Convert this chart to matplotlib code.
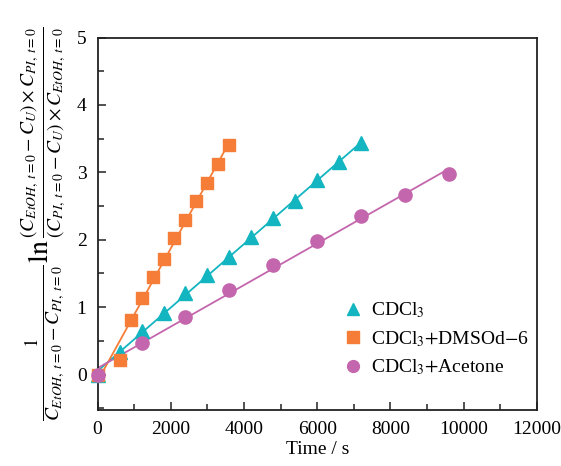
import numpy as np
import matplotlib
matplotlib.use("Agg")
import matplotlib.pyplot as plt
from matplotlib.ticker import MultipleLocator

plt.rcParams['font.family'] = ['Liberation Serif', 'DejaVu Serif']
plt.rcParams['mathtext.fontset'] = 'stix'

# Data
t_cdcl3 = [0, 600, 1200, 1800, 2400, 3000, 3600, 4200, 4800, 5400, 6000, 6600, 7200]
y_cdcl3 = [0.0, 0.33, 0.64, 0.91, 1.21, 1.48, 1.75, 2.04, 2.32, 2.58, 2.89, 3.15, 3.43]

t_dmso = [0, 600, 900, 1200, 1500, 1800, 2100, 2400, 2700, 3000, 3300, 3600]
y_dmso = [0.0, 0.21, 0.81, 1.14, 1.44, 1.72, 2.03, 2.30, 2.57, 2.84, 3.12, 3.41]

t_acet = [0, 1200, 2400, 3600, 4800, 6000, 7200, 8400, 9600]
y_acet = [0.0, 0.47, 0.86, 1.25, 1.62, 1.98, 2.35, 2.67, 2.97]

labels = ["CDCl$_3$", r"CDCl$_3$$+$DMSOd$-$6", r"CDCl$_3$$+$Acetone"]
colors = ["#12b5c0", "#f57d38", "#c466ad"]
markers = ["^", "s", "o"]
msizes = [10, 8.5, 9.5]

fig = plt.figure(figsize=(5.61, 4.66), dpi=100)
ax = fig.add_axes([0.174, 0.121, 0.783, 0.7985])

series = [(t_cdcl3, y_cdcl3), (t_dmso, y_dmso), (t_acet, y_acet)]
for (t, y), lab, c, m, ms in zip(series, labels, colors, markers, msizes):
    t = np.asarray(t, float); y = np.asarray(y, float)
    k, b = np.polyfit(t, y, 1)
    xx = np.array([t.min(), t.max()])
    ax.plot(xx, k * xx + b, color=c, lw=1.3, zorder=2)
    ax.plot(t, y, linestyle='none', marker=m, ms=ms, color=c, mec=c,
            label=lab, zorder=3, clip_on=False)

ax.set_xlim(0, 12000)
ax.set_ylim(-0.52, 5)
ax.xaxis.set_major_locator(MultipleLocator(2000))
ax.xaxis.set_minor_locator(MultipleLocator(1000))
ax.yaxis.set_major_locator(MultipleLocator(1))
ax.yaxis.set_minor_locator(MultipleLocator(0.5))
ax.tick_params(which='both', direction='in', top=False, right=False,
               labelsize=14, width=1.1, color='#222222')
ax.tick_params(which='major', length=6, pad=8)
ax.tick_params(which='minor', length=4)
for s in ax.spines.values():
    s.set_linewidth(1.3)
    s.set_color('#222222')

ax.set_xlabel("Time / s", fontsize=14, labelpad=2)
ylab = (r"$\frac{1}{C_{EtOH,\;t=0}-C_{PI,\;t=0}}\ln"
        r"\frac{(C_{EtOH,\;t=0}-C_U)\times C_{PI,\;t=0}}"
        r"{(C_{PI,\;t=0}-C_U)\times C_{EtOH,\;t=0}}$")
ax.set_ylabel(ylab, fontsize=20, labelpad=6)

leg = ax.legend(loc='lower right', bbox_to_anchor=(1.012, 0.05), frameon=False,
                fontsize=14, handlelength=0.8, handletextpad=0.5,
                labelspacing=0.45, borderaxespad=0.3)
for h in leg.legend_handles:
    h.set_markersize(8.5)

fig.savefig("out.png", dpi=100)
